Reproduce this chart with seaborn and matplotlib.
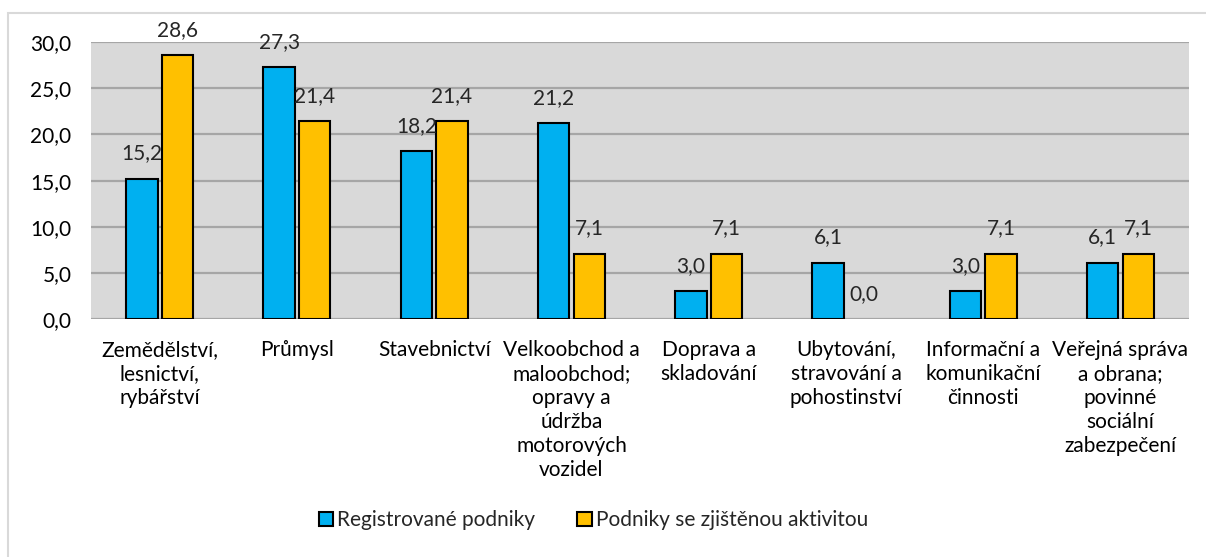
import pandas as pd
import matplotlib.pyplot as plt
import matplotlib.patches as mpatches
from matplotlib.ticker import FuncFormatter
import seaborn as sns

# Données
odvetvi = [
    "Zemědělství,\nlesnictví,\nrybářství",
    "Průmysl",
    "Stavebnictví",
    "Velkoobchod a\nmaloobchod;\nopravy a\núdržba\nmotorových\nvozidel",
    "Doprava a\nskladování",
    "Ubytování,\nstravování a\npohostinství",
    "Informační a\nkomunikační\nčinnosti",
    "Veřejná správa\na obrana;\npovinné\nsociální\nzabezpečení",
]
registrovane = [15.2, 27.3, 18.2, 21.2, 3.0, 6.1, 3.0, 6.1]
aktivni = [28.6, 21.4, 21.4, 7.1, 7.1, 0.0, 7.1, 7.1]
serie = ["Registrované podniky", "Podniky se zjištěnou aktivitou"]
barvy = ["#00B0F0", "#FFC000"]

df = pd.DataFrame({
    "odvetvi": odvetvi * 2,
    "hodnota": registrovane + aktivni,
    "serie": [serie[0]] * len(odvetvi) + [serie[1]] * len(odvetvi),
})

sns.set_style("white")
plt.rcParams['font.family'] = ['Lato', 'DejaVu Sans']
fs = 15

fig = plt.figure(figsize=(12.06, 5.57), dpi=100)
ax = fig.add_axes([0.0755, 0.427, 0.9105, 0.4975])

sns.barplot(data=df, x="odvetvi", y="hodnota", hue="serie", palette=barvy,
            saturation=1, width=0.52, gap=0.12, edgecolor="black", linewidth=1.5,
            errorbar=None, ax=ax, zorder=3)

ax.set_facecolor("#D9D9D9")
ax.set_ylim(0, 30)
ax.set_yticks(range(0, 31, 5))
ax.yaxis.set_major_formatter(FuncFormatter(lambda v, p: f"{v:.1f}".replace(".", ",")))
ax.grid(axis="y", color="#A6A6A6", linewidth=1.6, zorder=0)
ax.set_axisbelow(True)
for s in ax.spines.values():
    s.set_visible(False)
ax.tick_params(axis="both", length=0, labelsize=fs, colors="black")
ax.tick_params(axis="x", pad=15)
ax.tick_params(axis="y", pad=14)
for t in ax.get_xticklabels():
    t.set_linespacing(1.25)
ax.set_xlabel("")
ax.set_ylabel("")
ax.set_xlim(-0.5, len(odvetvi) - 0.5)

for cont in ax.containers:
    for b in cont:
        if b.get_height() == 0:
            b.set_linewidth(0)
    ax.bar_label(cont, labels=[f"{b.get_height():.1f}".replace(".", ",") for b in cont],
                 padding=11, fontsize=fs)

# Légende
ax.get_legend().remove()
handles = [mpatches.Patch(facecolor=c, edgecolor="black", linewidth=1.5, label=l)
           for c, l in zip(barvy, serie)]
fig.legend(handles=handles, loc="center", bbox_to_anchor=(0.492, 0.066), ncol=2,
           frameon=False, fontsize=fs, handlelength=0.7, handleheight=0.7,
           handletextpad=0.2, columnspacing=2.0)

# Cadre du graphique
fig.patches.append(mpatches.Rectangle((0.007, -0.1), 1.1, 1.0767, transform=fig.transFigure,
                                      fill=False, edgecolor="#D9D9D9", linewidth=1.5))

plt.savefig("out.png", dpi=100)
